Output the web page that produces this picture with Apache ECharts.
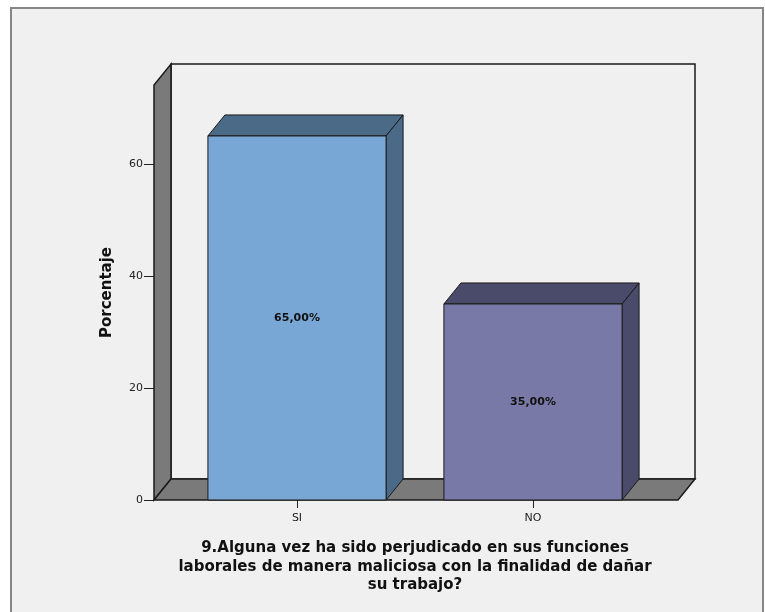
<!DOCTYPE html>
<html>
<head>
<meta charset="utf-8">
<script src="https://cdn.jsdelivr.net/npm/echarts@6/dist/echarts.min.js"></script>
<style>
  html, body { margin: 0; padding: 0; background: #ffffff; }
  #chart { width: 765px; height: 612px; }
</style>
</head>
<body>
<div id="chart"></div>
<script>
// Data
const categories = ['SI', 'NO'];
const percentages = [65, 35];
const valueLabels = ['65,00%', '35,00%'];
const yTicks = [0, 20, 40, 60];
const yMax = 74.1;
const yTitle = 'Porcentaje';
const xTitle = '9.Alguna vez ha sido perjudicado en sus funciones\nlaborales de manera maliciosa con la finalidad de dañar\nsu trabajo?';

// Styling of the 3D box
const DX = 17, DY = -21;          // depth offset (pixels)
const FRONT_COLORS = ['#79a7d5', '#7879a7'];
const SHADE_COLORS = ['#4b6a87', '#4a4a6a'];
const WALL_COLOR = '#7a7a7a';
const EDGE = '#1a1a1a';
const FONT = 'DejaVu Sans, Liberation Sans, Arial, sans-serif';

const chart = echarts.init(document.getElementById('chart'), null, { renderer: 'canvas' });

function poly(points, fill, lw, z2) {
  return {
    type: 'polygon',
    shape: { points: points },
    style: { fill: fill, stroke: EDGE, lineWidth: lw, lineJoin: 'miter' },
    z2: z2 || 0
  };
}

chart.setOption({
  backgroundColor: '#ffffff',
  animation: false,
  graphic: [{
    type: 'rect',
    z: -10,
    silent: true,
    shape: { x: 11, y: 8, width: 752, height: 620 },
    style: { fill: '#f0f0f0', stroke: '#868686', lineWidth: 2 }
  }],
  grid: { left: 179, top: 85, width: 472, height: 415 },
  xAxis: {
    type: 'category',
    data: categories,
    axisLine: { show: false },
    axisTick: { show: true, alignWithLabel: true, length: 8, lineStyle: { color: '#222', width: 1 } },
    axisLabel: { margin: 13, color: '#222', fontSize: 11, fontFamily: FONT },
    splitLine: { show: false },
    name: xTitle,
    nameLocation: 'middle',
    nameGap: 39,
    nameTextStyle: { fontFamily: FONT, fontSize: 15, fontWeight: 'bold', color: '#111', lineHeight: 18.5, align: 'center' }
  },
  yAxis: {
    type: 'value',
    min: 0,
    max: yMax,
    offset: 25,
    axisLine: { show: false },
    axisTick: { show: true, length: 10, customValues: yTicks, lineStyle: { color: '#222', width: 1 } },
    axisLabel: { customValues: yTicks, margin: 11, color: '#222', fontSize: 11, fontFamily: FONT },
    splitLine: { show: false },
    name: yTitle,
    nameLocation: 'middle',
    nameGap: 39,
    nameTextStyle: { fontFamily: FONT, fontSize: 15, fontWeight: 'bold', color: '#111' }
  },
  series: [
    {
      // walls and floor of the 3D frame
      type: 'custom',
      clip: false,
      silent: true,
      z: 1,
      data: [[0, 0]],
      renderItem: function (params, api) {
        const cs = params.coordSys;
        const x0 = cs.x - 25;
        const x1 = cs.x + cs.width + 27;
        const yb = api.coord([0, 0])[1];
        const yt = api.coord([0, yMax])[1];
        return {
          type: 'group',
          children: [
            poly([[x0 + DX, yt + DY], [x1 + DX, yt + DY], [x1 + DX, yb + DY], [x0 + DX, yb + DY]], '#f0f0f0', 1.5, 0),
            poly([[x0, yb], [x0, yt], [x0 + DX, yt + DY], [x0 + DX, yb + DY]], WALL_COLOR, 1.5, 1),
            poly([[x0, yb], [x0 + DX, yb + DY], [x1 + DX, yb + DY], [x1, yb]], WALL_COLOR, 1.5, 2)
          ]
        };
      }
    },
    {
      // 3D bars
      type: 'custom',
      clip: false,
      z: 2,
      encode: { x: 0, y: 1 },
      data: categories.map(function (c, i) { return [i, percentages[i]]; }),
      renderItem: function (params, api) {
        const i = api.value(0);
        const v = api.value(1);
        const base = api.coord([i, 0]);
        const top = api.coord([i, v]);
        const w = api.size([1, 0])[0] * 0.755;
        const xl = base[0] - w / 2, xr = base[0] + w / 2;
        const yt = top[1], yb = base[1];
        const idx = params.dataIndex;
        return {
          type: 'group',
          children: [
            poly([[xl, yt], [xl + DX, yt + DY], [xr + DX, yt + DY], [xr, yt]], SHADE_COLORS[idx], 1, 1),
            poly([[xr, yt], [xr + DX, yt + DY], [xr + DX, yb + DY], [xr, yb]], SHADE_COLORS[idx], 1, 1),
            poly([[xl, yt], [xr, yt], [xr, yb], [xl, yb]], FRONT_COLORS[idx], 1, 2),
            {
              type: 'text',
              z2: 3,
              style: {
                x: (xl + xr) / 2,
                y: (yt + yb) / 2,
                text: valueLabels[idx],
                align: 'center',
                verticalAlign: 'middle',
                fill: '#111',
                font: 'bold 11px ' + FONT
              }
            }
          ]
        };
      }
    }
  ]
});
</script>
</body>
</html>
